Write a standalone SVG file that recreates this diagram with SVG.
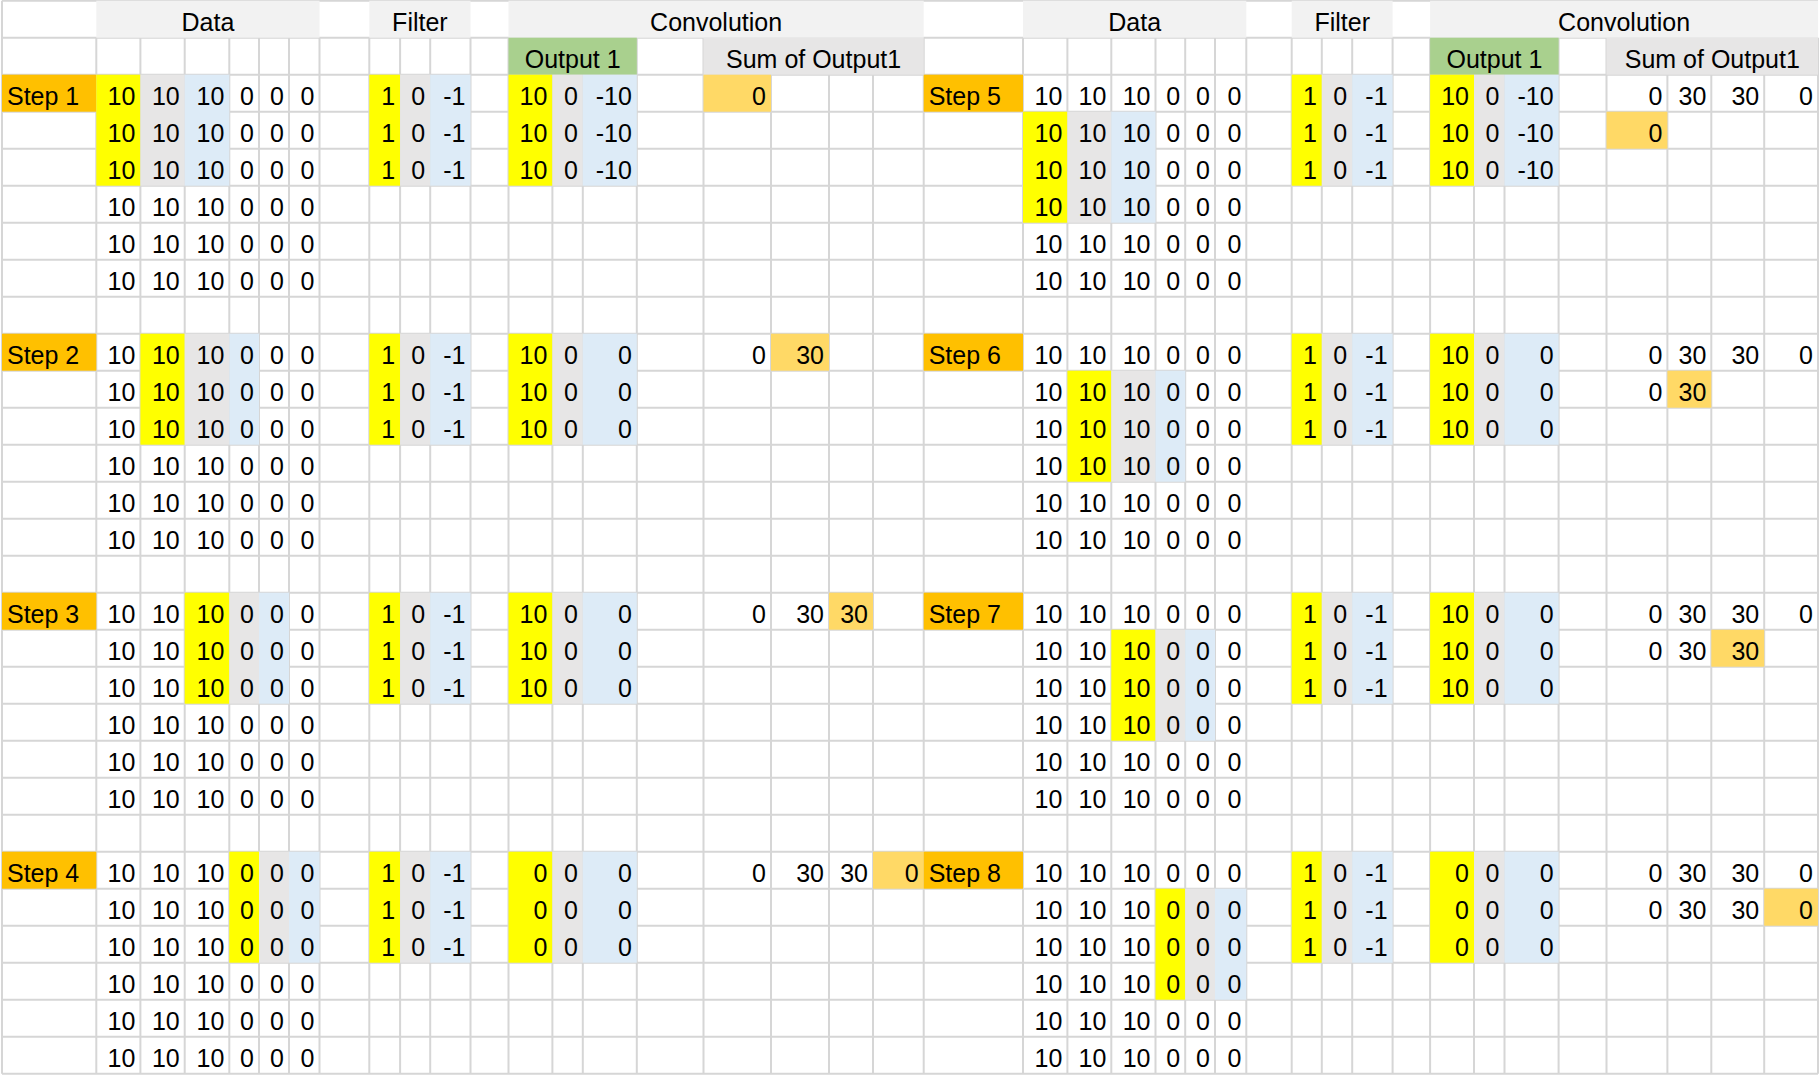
<svg xmlns="http://www.w3.org/2000/svg" width="1820" height="1075" viewBox="0 0 1820 1075">
<style>
text{font-family:"Liberation Sans",Arial,sans-serif;font-size:25px;fill:#000}
.r{text-anchor:end}
.c{text-anchor:middle}
.hd{fill:#f2f2f2}.sh{fill:#e7e6e6}.gn{fill:#a9d08e}.y{fill:#ffff00}.m{fill:#e7e6e6}.b{fill:#ddebf7}.st{fill:#ffc000}.hl{fill:#ffd966}
.grid{fill:none;stroke:#d6d6d6;stroke-width:2}
</style>
<rect x="0" y="0" width="1820" height="1075" fill="#ffffff"/>
<g id="gridlines">
<path class="grid" d="M2 0.7H1818M2 37.7H1818M2 74.7H1818M2 111.7H1818M2 148.7H1818M2 185.7H1818M2 222.7H1818M2 259.7H1818M2 296.7H1818M2 333.7H1818M2 370.7H1818M2 407.7H1818M2 444.7H1818M2 481.7H1818M2 518.7H1818M2 555.7H1818M2 592.7H1818M2 629.7H1818M2 666.7H1818M2 703.7H1818M2 740.7H1818M2 777.7H1818M2 814.7H1818M2 851.7H1818M2 888.7H1818M2 925.7H1818M2 962.7H1818M2 999.7H1818M2 1036.7H1818M2 1073.7H1818"/>
<path class="grid" d="M2 0.7V1073.7M96.3 37.7V1073.7M140.4 37.7V1073.7M184.7 37.7V1073.7M229.3 37.7V1073.7M259 37.7V1073.7M289 37.7V1073.7M319.5 37.7V1073.7M369.3 37.7V1073.7M400.1 37.7V1073.7M430.2 37.7V1073.7M470.5 37.7V1073.7M508.5 37.7V1073.7M552.4 37.7V1073.7M582.8 37.7V1073.7M636.8 37.7V1073.7M703.5 37.7V1073.7M771 37.7V1073.7M829 37.7V1073.7M873 37.7V1073.7M923.7 37.7V1073.7M1023 37.7V1073.7M1067.4 37.7V1073.7M1111.3 37.7V1073.7M1155.5 37.7V1073.7M1185.2 37.7V1073.7M1215 37.7V1073.7M1246.3 37.7V1073.7M1291.7 37.7V1073.7M1321.8 37.7V1073.7M1352.2 37.7V1073.7M1392.6 37.7V1073.7M1430.1 37.7V1073.7M1474 37.7V1073.7M1504.5 37.7V1073.7M1558.6 37.7V1073.7M1606.5 37.7V1073.7M1667.4 37.7V1073.7M1711.3 37.7V1073.7M1764.2 37.7V1073.7M1818 37.7V1073.7"/>
</g>
<g id="headers">
<rect class="hd" x="96.3" y="0.7" width="223.2" height="37"/>
<rect class="hd" x="369.3" y="0.7" width="101.2" height="37"/>
<rect class="hd" x="508.5" y="0.7" width="415.2" height="37"/>
<rect class="hd" x="1023" y="0.7" width="223.3" height="37"/>
<rect class="hd" x="1291.7" y="0.7" width="100.9" height="37"/>
<rect class="hd" x="1430.1" y="0.7" width="388" height="37"/>
<rect class="gn" x="508.5" y="37.7" width="128.3" height="37"/>
<rect class="sh" x="703.5" y="37.7" width="220.2" height="37"/>
<rect class="gn" x="1430.1" y="37.7" width="128.5" height="37"/>
<rect class="sh" x="1606.5" y="37.7" width="211.5" height="37"/>
<text class="c" x="207.9" y="30.5">Data</text>
<text class="c" x="419.9" y="30.5">Filter</text>
<text class="c" x="716.1" y="30.5">Convolution</text>
<text class="c" x="1134.7" y="30.5">Data</text>
<text class="c" x="1342.2" y="30.5">Filter</text>
<text class="c" x="1624.1" y="30.5">Convolution</text>
<text class="c" x="572.7" y="67.5">Output 1</text>
<text class="c" x="813.6" y="67.5">Sum of Output1</text>
<text class="c" x="1494.4" y="67.5">Output 1</text>
<text class="c" x="1712.3" y="67.5">Sum of Output1</text>
</g>
<g id="step1">
<rect class="st" x="2" y="74.7" width="94.3" height="37"/>
<rect class="y" x="96.3" y="74.7" width="44.1" height="111"/><rect class="m" x="140.4" y="74.7" width="44.3" height="111"/><rect class="b" x="184.7" y="74.7" width="44.6" height="111"/>
<rect class="y" x="369.3" y="74.7" width="30.8" height="111"/><rect class="m" x="400.1" y="74.7" width="30.1" height="111"/><rect class="b" x="430.2" y="74.7" width="40.3" height="111"/>
<rect class="y" x="508.5" y="74.7" width="43.9" height="111"/><rect class="m" x="552.4" y="74.7" width="30.4" height="111"/><rect class="b" x="582.8" y="74.7" width="54" height="111"/>
<rect class="hl" x="703.5" y="74.7" width="67.5" height="37"/>
<text x="7" y="104.5">Step 1</text>
<text class="r" y="104.5"><tspan x="135.4">10</tspan><tspan x="179.7">10</tspan><tspan x="224.3">10</tspan><tspan x="254">0</tspan><tspan x="284">0</tspan><tspan x="314.5">0</tspan></text>
<text class="r" y="141.5"><tspan x="135.4">10</tspan><tspan x="179.7">10</tspan><tspan x="224.3">10</tspan><tspan x="254">0</tspan><tspan x="284">0</tspan><tspan x="314.5">0</tspan></text>
<text class="r" y="178.5"><tspan x="135.4">10</tspan><tspan x="179.7">10</tspan><tspan x="224.3">10</tspan><tspan x="254">0</tspan><tspan x="284">0</tspan><tspan x="314.5">0</tspan></text>
<text class="r" y="215.5"><tspan x="135.4">10</tspan><tspan x="179.7">10</tspan><tspan x="224.3">10</tspan><tspan x="254">0</tspan><tspan x="284">0</tspan><tspan x="314.5">0</tspan></text>
<text class="r" y="252.5"><tspan x="135.4">10</tspan><tspan x="179.7">10</tspan><tspan x="224.3">10</tspan><tspan x="254">0</tspan><tspan x="284">0</tspan><tspan x="314.5">0</tspan></text>
<text class="r" y="289.5"><tspan x="135.4">10</tspan><tspan x="179.7">10</tspan><tspan x="224.3">10</tspan><tspan x="254">0</tspan><tspan x="284">0</tspan><tspan x="314.5">0</tspan></text>
<text class="r" y="104.5"><tspan x="395.1">1</tspan><tspan x="425.2">0</tspan><tspan x="465.5">-1</tspan><tspan x="547.4">10</tspan><tspan x="577.8">0</tspan><tspan x="631.8">-10</tspan><tspan x="766">0</tspan></text>
<text class="r" y="141.5"><tspan x="395.1">1</tspan><tspan x="425.2">0</tspan><tspan x="465.5">-1</tspan><tspan x="547.4">10</tspan><tspan x="577.8">0</tspan><tspan x="631.8">-10</tspan></text>
<text class="r" y="178.5"><tspan x="395.1">1</tspan><tspan x="425.2">0</tspan><tspan x="465.5">-1</tspan><tspan x="547.4">10</tspan><tspan x="577.8">0</tspan><tspan x="631.8">-10</tspan></text>
</g>
<g id="step2">
<rect class="st" x="2" y="333.7" width="94.3" height="37"/>
<rect class="y" x="140.4" y="333.7" width="44.3" height="111"/><rect class="m" x="184.7" y="333.7" width="44.6" height="111"/><rect class="b" x="229.3" y="333.7" width="29.7" height="111"/>
<rect class="y" x="369.3" y="333.7" width="30.8" height="111"/><rect class="m" x="400.1" y="333.7" width="30.1" height="111"/><rect class="b" x="430.2" y="333.7" width="40.3" height="111"/>
<rect class="y" x="508.5" y="333.7" width="43.9" height="111"/><rect class="m" x="552.4" y="333.7" width="30.4" height="111"/><rect class="b" x="582.8" y="333.7" width="54" height="111"/>
<rect class="hl" x="771" y="333.7" width="58" height="37"/>
<text x="7" y="363.5">Step 2</text>
<text class="r" y="363.5"><tspan x="135.4">10</tspan><tspan x="179.7">10</tspan><tspan x="224.3">10</tspan><tspan x="254">0</tspan><tspan x="284">0</tspan><tspan x="314.5">0</tspan></text>
<text class="r" y="400.5"><tspan x="135.4">10</tspan><tspan x="179.7">10</tspan><tspan x="224.3">10</tspan><tspan x="254">0</tspan><tspan x="284">0</tspan><tspan x="314.5">0</tspan></text>
<text class="r" y="437.5"><tspan x="135.4">10</tspan><tspan x="179.7">10</tspan><tspan x="224.3">10</tspan><tspan x="254">0</tspan><tspan x="284">0</tspan><tspan x="314.5">0</tspan></text>
<text class="r" y="474.5"><tspan x="135.4">10</tspan><tspan x="179.7">10</tspan><tspan x="224.3">10</tspan><tspan x="254">0</tspan><tspan x="284">0</tspan><tspan x="314.5">0</tspan></text>
<text class="r" y="511.5"><tspan x="135.4">10</tspan><tspan x="179.7">10</tspan><tspan x="224.3">10</tspan><tspan x="254">0</tspan><tspan x="284">0</tspan><tspan x="314.5">0</tspan></text>
<text class="r" y="548.5"><tspan x="135.4">10</tspan><tspan x="179.7">10</tspan><tspan x="224.3">10</tspan><tspan x="254">0</tspan><tspan x="284">0</tspan><tspan x="314.5">0</tspan></text>
<text class="r" y="363.5"><tspan x="395.1">1</tspan><tspan x="425.2">0</tspan><tspan x="465.5">-1</tspan><tspan x="547.4">10</tspan><tspan x="577.8">0</tspan><tspan x="631.8">0</tspan><tspan x="766">0</tspan><tspan x="824">30</tspan></text>
<text class="r" y="400.5"><tspan x="395.1">1</tspan><tspan x="425.2">0</tspan><tspan x="465.5">-1</tspan><tspan x="547.4">10</tspan><tspan x="577.8">0</tspan><tspan x="631.8">0</tspan></text>
<text class="r" y="437.5"><tspan x="395.1">1</tspan><tspan x="425.2">0</tspan><tspan x="465.5">-1</tspan><tspan x="547.4">10</tspan><tspan x="577.8">0</tspan><tspan x="631.8">0</tspan></text>
</g>
<g id="step3">
<rect class="st" x="2" y="592.7" width="94.3" height="37"/>
<rect class="y" x="184.7" y="592.7" width="44.6" height="111"/><rect class="m" x="229.3" y="592.7" width="29.7" height="111"/><rect class="b" x="259" y="592.7" width="30" height="111"/>
<rect class="y" x="369.3" y="592.7" width="30.8" height="111"/><rect class="m" x="400.1" y="592.7" width="30.1" height="111"/><rect class="b" x="430.2" y="592.7" width="40.3" height="111"/>
<rect class="y" x="508.5" y="592.7" width="43.9" height="111"/><rect class="m" x="552.4" y="592.7" width="30.4" height="111"/><rect class="b" x="582.8" y="592.7" width="54" height="111"/>
<rect class="hl" x="829" y="592.7" width="44" height="37"/>
<text x="7" y="622.5">Step 3</text>
<text class="r" y="622.5"><tspan x="135.4">10</tspan><tspan x="179.7">10</tspan><tspan x="224.3">10</tspan><tspan x="254">0</tspan><tspan x="284">0</tspan><tspan x="314.5">0</tspan></text>
<text class="r" y="659.5"><tspan x="135.4">10</tspan><tspan x="179.7">10</tspan><tspan x="224.3">10</tspan><tspan x="254">0</tspan><tspan x="284">0</tspan><tspan x="314.5">0</tspan></text>
<text class="r" y="696.5"><tspan x="135.4">10</tspan><tspan x="179.7">10</tspan><tspan x="224.3">10</tspan><tspan x="254">0</tspan><tspan x="284">0</tspan><tspan x="314.5">0</tspan></text>
<text class="r" y="733.5"><tspan x="135.4">10</tspan><tspan x="179.7">10</tspan><tspan x="224.3">10</tspan><tspan x="254">0</tspan><tspan x="284">0</tspan><tspan x="314.5">0</tspan></text>
<text class="r" y="770.5"><tspan x="135.4">10</tspan><tspan x="179.7">10</tspan><tspan x="224.3">10</tspan><tspan x="254">0</tspan><tspan x="284">0</tspan><tspan x="314.5">0</tspan></text>
<text class="r" y="807.5"><tspan x="135.4">10</tspan><tspan x="179.7">10</tspan><tspan x="224.3">10</tspan><tspan x="254">0</tspan><tspan x="284">0</tspan><tspan x="314.5">0</tspan></text>
<text class="r" y="622.5"><tspan x="395.1">1</tspan><tspan x="425.2">0</tspan><tspan x="465.5">-1</tspan><tspan x="547.4">10</tspan><tspan x="577.8">0</tspan><tspan x="631.8">0</tspan><tspan x="766">0</tspan><tspan x="824">30</tspan><tspan x="868">30</tspan></text>
<text class="r" y="659.5"><tspan x="395.1">1</tspan><tspan x="425.2">0</tspan><tspan x="465.5">-1</tspan><tspan x="547.4">10</tspan><tspan x="577.8">0</tspan><tspan x="631.8">0</tspan></text>
<text class="r" y="696.5"><tspan x="395.1">1</tspan><tspan x="425.2">0</tspan><tspan x="465.5">-1</tspan><tspan x="547.4">10</tspan><tspan x="577.8">0</tspan><tspan x="631.8">0</tspan></text>
</g>
<g id="step4">
<rect class="st" x="2" y="851.7" width="94.3" height="37"/>
<rect class="y" x="229.3" y="851.7" width="29.7" height="111"/><rect class="m" x="259" y="851.7" width="30" height="111"/><rect class="b" x="289" y="851.7" width="30.5" height="111"/>
<rect class="y" x="369.3" y="851.7" width="30.8" height="111"/><rect class="m" x="400.1" y="851.7" width="30.1" height="111"/><rect class="b" x="430.2" y="851.7" width="40.3" height="111"/>
<rect class="y" x="508.5" y="851.7" width="43.9" height="111"/><rect class="m" x="552.4" y="851.7" width="30.4" height="111"/><rect class="b" x="582.8" y="851.7" width="54" height="111"/>
<rect class="hl" x="873" y="851.7" width="50.7" height="37"/>
<text x="7" y="881.5">Step 4</text>
<text class="r" y="881.5"><tspan x="135.4">10</tspan><tspan x="179.7">10</tspan><tspan x="224.3">10</tspan><tspan x="254">0</tspan><tspan x="284">0</tspan><tspan x="314.5">0</tspan></text>
<text class="r" y="918.5"><tspan x="135.4">10</tspan><tspan x="179.7">10</tspan><tspan x="224.3">10</tspan><tspan x="254">0</tspan><tspan x="284">0</tspan><tspan x="314.5">0</tspan></text>
<text class="r" y="955.5"><tspan x="135.4">10</tspan><tspan x="179.7">10</tspan><tspan x="224.3">10</tspan><tspan x="254">0</tspan><tspan x="284">0</tspan><tspan x="314.5">0</tspan></text>
<text class="r" y="992.5"><tspan x="135.4">10</tspan><tspan x="179.7">10</tspan><tspan x="224.3">10</tspan><tspan x="254">0</tspan><tspan x="284">0</tspan><tspan x="314.5">0</tspan></text>
<text class="r" y="1029.5"><tspan x="135.4">10</tspan><tspan x="179.7">10</tspan><tspan x="224.3">10</tspan><tspan x="254">0</tspan><tspan x="284">0</tspan><tspan x="314.5">0</tspan></text>
<text class="r" y="1066.5"><tspan x="135.4">10</tspan><tspan x="179.7">10</tspan><tspan x="224.3">10</tspan><tspan x="254">0</tspan><tspan x="284">0</tspan><tspan x="314.5">0</tspan></text>
<text class="r" y="881.5"><tspan x="395.1">1</tspan><tspan x="425.2">0</tspan><tspan x="465.5">-1</tspan><tspan x="547.4">0</tspan><tspan x="577.8">0</tspan><tspan x="631.8">0</tspan><tspan x="766">0</tspan><tspan x="824">30</tspan><tspan x="868">30</tspan><tspan x="918.7">0</tspan></text>
<text class="r" y="918.5"><tspan x="395.1">1</tspan><tspan x="425.2">0</tspan><tspan x="465.5">-1</tspan><tspan x="547.4">0</tspan><tspan x="577.8">0</tspan><tspan x="631.8">0</tspan></text>
<text class="r" y="955.5"><tspan x="395.1">1</tspan><tspan x="425.2">0</tspan><tspan x="465.5">-1</tspan><tspan x="547.4">0</tspan><tspan x="577.8">0</tspan><tspan x="631.8">0</tspan></text>
</g>
<g id="step5">
<rect class="st" x="923.7" y="74.7" width="99.3" height="37"/>
<rect class="y" x="1023" y="111.7" width="44.4" height="111"/><rect class="m" x="1067.4" y="111.7" width="43.9" height="111"/><rect class="b" x="1111.3" y="111.7" width="44.2" height="111"/>
<rect class="y" x="1291.7" y="74.7" width="30.1" height="111"/><rect class="m" x="1321.8" y="74.7" width="30.4" height="111"/><rect class="b" x="1352.2" y="74.7" width="40.4" height="111"/>
<rect class="y" x="1430.1" y="74.7" width="43.9" height="111"/><rect class="m" x="1474" y="74.7" width="30.5" height="111"/><rect class="b" x="1504.5" y="74.7" width="54.1" height="111"/>
<rect class="hl" x="1606.5" y="111.7" width="60.9" height="37"/>
<text x="928.7" y="104.5">Step 5</text>
<text class="r" y="104.5"><tspan x="1062.4">10</tspan><tspan x="1106.3">10</tspan><tspan x="1150.5">10</tspan><tspan x="1180.2">0</tspan><tspan x="1210">0</tspan><tspan x="1241.3">0</tspan></text>
<text class="r" y="141.5"><tspan x="1062.4">10</tspan><tspan x="1106.3">10</tspan><tspan x="1150.5">10</tspan><tspan x="1180.2">0</tspan><tspan x="1210">0</tspan><tspan x="1241.3">0</tspan></text>
<text class="r" y="178.5"><tspan x="1062.4">10</tspan><tspan x="1106.3">10</tspan><tspan x="1150.5">10</tspan><tspan x="1180.2">0</tspan><tspan x="1210">0</tspan><tspan x="1241.3">0</tspan></text>
<text class="r" y="215.5"><tspan x="1062.4">10</tspan><tspan x="1106.3">10</tspan><tspan x="1150.5">10</tspan><tspan x="1180.2">0</tspan><tspan x="1210">0</tspan><tspan x="1241.3">0</tspan></text>
<text class="r" y="252.5"><tspan x="1062.4">10</tspan><tspan x="1106.3">10</tspan><tspan x="1150.5">10</tspan><tspan x="1180.2">0</tspan><tspan x="1210">0</tspan><tspan x="1241.3">0</tspan></text>
<text class="r" y="289.5"><tspan x="1062.4">10</tspan><tspan x="1106.3">10</tspan><tspan x="1150.5">10</tspan><tspan x="1180.2">0</tspan><tspan x="1210">0</tspan><tspan x="1241.3">0</tspan></text>
<text class="r" y="104.5"><tspan x="1316.8">1</tspan><tspan x="1347.2">0</tspan><tspan x="1387.6">-1</tspan><tspan x="1469">10</tspan><tspan x="1499.5">0</tspan><tspan x="1553.6">-10</tspan><tspan x="1662.4">0</tspan><tspan x="1706.3">30</tspan><tspan x="1759.2">30</tspan><tspan x="1813">0</tspan></text>
<text class="r" y="141.5"><tspan x="1316.8">1</tspan><tspan x="1347.2">0</tspan><tspan x="1387.6">-1</tspan><tspan x="1469">10</tspan><tspan x="1499.5">0</tspan><tspan x="1553.6">-10</tspan><tspan x="1662.4">0</tspan></text>
<text class="r" y="178.5"><tspan x="1316.8">1</tspan><tspan x="1347.2">0</tspan><tspan x="1387.6">-1</tspan><tspan x="1469">10</tspan><tspan x="1499.5">0</tspan><tspan x="1553.6">-10</tspan></text>
</g>
<g id="step6">
<rect class="st" x="923.7" y="333.7" width="99.3" height="37"/>
<rect class="y" x="1067.4" y="370.7" width="43.9" height="111"/><rect class="m" x="1111.3" y="370.7" width="44.2" height="111"/><rect class="b" x="1155.5" y="370.7" width="29.7" height="111"/>
<rect class="y" x="1291.7" y="333.7" width="30.1" height="111"/><rect class="m" x="1321.8" y="333.7" width="30.4" height="111"/><rect class="b" x="1352.2" y="333.7" width="40.4" height="111"/>
<rect class="y" x="1430.1" y="333.7" width="43.9" height="111"/><rect class="m" x="1474" y="333.7" width="30.5" height="111"/><rect class="b" x="1504.5" y="333.7" width="54.1" height="111"/>
<rect class="hl" x="1667.4" y="370.7" width="43.9" height="37"/>
<text x="928.7" y="363.5">Step 6</text>
<text class="r" y="363.5"><tspan x="1062.4">10</tspan><tspan x="1106.3">10</tspan><tspan x="1150.5">10</tspan><tspan x="1180.2">0</tspan><tspan x="1210">0</tspan><tspan x="1241.3">0</tspan></text>
<text class="r" y="400.5"><tspan x="1062.4">10</tspan><tspan x="1106.3">10</tspan><tspan x="1150.5">10</tspan><tspan x="1180.2">0</tspan><tspan x="1210">0</tspan><tspan x="1241.3">0</tspan></text>
<text class="r" y="437.5"><tspan x="1062.4">10</tspan><tspan x="1106.3">10</tspan><tspan x="1150.5">10</tspan><tspan x="1180.2">0</tspan><tspan x="1210">0</tspan><tspan x="1241.3">0</tspan></text>
<text class="r" y="474.5"><tspan x="1062.4">10</tspan><tspan x="1106.3">10</tspan><tspan x="1150.5">10</tspan><tspan x="1180.2">0</tspan><tspan x="1210">0</tspan><tspan x="1241.3">0</tspan></text>
<text class="r" y="511.5"><tspan x="1062.4">10</tspan><tspan x="1106.3">10</tspan><tspan x="1150.5">10</tspan><tspan x="1180.2">0</tspan><tspan x="1210">0</tspan><tspan x="1241.3">0</tspan></text>
<text class="r" y="548.5"><tspan x="1062.4">10</tspan><tspan x="1106.3">10</tspan><tspan x="1150.5">10</tspan><tspan x="1180.2">0</tspan><tspan x="1210">0</tspan><tspan x="1241.3">0</tspan></text>
<text class="r" y="363.5"><tspan x="1316.8">1</tspan><tspan x="1347.2">0</tspan><tspan x="1387.6">-1</tspan><tspan x="1469">10</tspan><tspan x="1499.5">0</tspan><tspan x="1553.6">0</tspan><tspan x="1662.4">0</tspan><tspan x="1706.3">30</tspan><tspan x="1759.2">30</tspan><tspan x="1813">0</tspan></text>
<text class="r" y="400.5"><tspan x="1316.8">1</tspan><tspan x="1347.2">0</tspan><tspan x="1387.6">-1</tspan><tspan x="1469">10</tspan><tspan x="1499.5">0</tspan><tspan x="1553.6">0</tspan><tspan x="1662.4">0</tspan><tspan x="1706.3">30</tspan></text>
<text class="r" y="437.5"><tspan x="1316.8">1</tspan><tspan x="1347.2">0</tspan><tspan x="1387.6">-1</tspan><tspan x="1469">10</tspan><tspan x="1499.5">0</tspan><tspan x="1553.6">0</tspan></text>
</g>
<g id="step7">
<rect class="st" x="923.7" y="592.7" width="99.3" height="37"/>
<rect class="y" x="1111.3" y="629.7" width="44.2" height="111"/><rect class="m" x="1155.5" y="629.7" width="29.7" height="111"/><rect class="b" x="1185.2" y="629.7" width="29.8" height="111"/>
<rect class="y" x="1291.7" y="592.7" width="30.1" height="111"/><rect class="m" x="1321.8" y="592.7" width="30.4" height="111"/><rect class="b" x="1352.2" y="592.7" width="40.4" height="111"/>
<rect class="y" x="1430.1" y="592.7" width="43.9" height="111"/><rect class="m" x="1474" y="592.7" width="30.5" height="111"/><rect class="b" x="1504.5" y="592.7" width="54.1" height="111"/>
<rect class="hl" x="1711.3" y="629.7" width="52.9" height="37"/>
<text x="928.7" y="622.5">Step 7</text>
<text class="r" y="622.5"><tspan x="1062.4">10</tspan><tspan x="1106.3">10</tspan><tspan x="1150.5">10</tspan><tspan x="1180.2">0</tspan><tspan x="1210">0</tspan><tspan x="1241.3">0</tspan></text>
<text class="r" y="659.5"><tspan x="1062.4">10</tspan><tspan x="1106.3">10</tspan><tspan x="1150.5">10</tspan><tspan x="1180.2">0</tspan><tspan x="1210">0</tspan><tspan x="1241.3">0</tspan></text>
<text class="r" y="696.5"><tspan x="1062.4">10</tspan><tspan x="1106.3">10</tspan><tspan x="1150.5">10</tspan><tspan x="1180.2">0</tspan><tspan x="1210">0</tspan><tspan x="1241.3">0</tspan></text>
<text class="r" y="733.5"><tspan x="1062.4">10</tspan><tspan x="1106.3">10</tspan><tspan x="1150.5">10</tspan><tspan x="1180.2">0</tspan><tspan x="1210">0</tspan><tspan x="1241.3">0</tspan></text>
<text class="r" y="770.5"><tspan x="1062.4">10</tspan><tspan x="1106.3">10</tspan><tspan x="1150.5">10</tspan><tspan x="1180.2">0</tspan><tspan x="1210">0</tspan><tspan x="1241.3">0</tspan></text>
<text class="r" y="807.5"><tspan x="1062.4">10</tspan><tspan x="1106.3">10</tspan><tspan x="1150.5">10</tspan><tspan x="1180.2">0</tspan><tspan x="1210">0</tspan><tspan x="1241.3">0</tspan></text>
<text class="r" y="622.5"><tspan x="1316.8">1</tspan><tspan x="1347.2">0</tspan><tspan x="1387.6">-1</tspan><tspan x="1469">10</tspan><tspan x="1499.5">0</tspan><tspan x="1553.6">0</tspan><tspan x="1662.4">0</tspan><tspan x="1706.3">30</tspan><tspan x="1759.2">30</tspan><tspan x="1813">0</tspan></text>
<text class="r" y="659.5"><tspan x="1316.8">1</tspan><tspan x="1347.2">0</tspan><tspan x="1387.6">-1</tspan><tspan x="1469">10</tspan><tspan x="1499.5">0</tspan><tspan x="1553.6">0</tspan><tspan x="1662.4">0</tspan><tspan x="1706.3">30</tspan><tspan x="1759.2">30</tspan></text>
<text class="r" y="696.5"><tspan x="1316.8">1</tspan><tspan x="1347.2">0</tspan><tspan x="1387.6">-1</tspan><tspan x="1469">10</tspan><tspan x="1499.5">0</tspan><tspan x="1553.6">0</tspan></text>
</g>
<g id="step8">
<rect class="st" x="923.7" y="851.7" width="99.3" height="37"/>
<rect class="y" x="1155.5" y="888.7" width="29.7" height="111"/><rect class="m" x="1185.2" y="888.7" width="29.8" height="111"/><rect class="b" x="1215" y="888.7" width="31.3" height="111"/>
<rect class="y" x="1291.7" y="851.7" width="30.1" height="111"/><rect class="m" x="1321.8" y="851.7" width="30.4" height="111"/><rect class="b" x="1352.2" y="851.7" width="40.4" height="111"/>
<rect class="y" x="1430.1" y="851.7" width="43.9" height="111"/><rect class="m" x="1474" y="851.7" width="30.5" height="111"/><rect class="b" x="1504.5" y="851.7" width="54.1" height="111"/>
<rect class="hl" x="1764.2" y="888.7" width="53.8" height="37"/>
<text x="928.7" y="881.5">Step 8</text>
<text class="r" y="881.5"><tspan x="1062.4">10</tspan><tspan x="1106.3">10</tspan><tspan x="1150.5">10</tspan><tspan x="1180.2">0</tspan><tspan x="1210">0</tspan><tspan x="1241.3">0</tspan></text>
<text class="r" y="918.5"><tspan x="1062.4">10</tspan><tspan x="1106.3">10</tspan><tspan x="1150.5">10</tspan><tspan x="1180.2">0</tspan><tspan x="1210">0</tspan><tspan x="1241.3">0</tspan></text>
<text class="r" y="955.5"><tspan x="1062.4">10</tspan><tspan x="1106.3">10</tspan><tspan x="1150.5">10</tspan><tspan x="1180.2">0</tspan><tspan x="1210">0</tspan><tspan x="1241.3">0</tspan></text>
<text class="r" y="992.5"><tspan x="1062.4">10</tspan><tspan x="1106.3">10</tspan><tspan x="1150.5">10</tspan><tspan x="1180.2">0</tspan><tspan x="1210">0</tspan><tspan x="1241.3">0</tspan></text>
<text class="r" y="1029.5"><tspan x="1062.4">10</tspan><tspan x="1106.3">10</tspan><tspan x="1150.5">10</tspan><tspan x="1180.2">0</tspan><tspan x="1210">0</tspan><tspan x="1241.3">0</tspan></text>
<text class="r" y="1066.5"><tspan x="1062.4">10</tspan><tspan x="1106.3">10</tspan><tspan x="1150.5">10</tspan><tspan x="1180.2">0</tspan><tspan x="1210">0</tspan><tspan x="1241.3">0</tspan></text>
<text class="r" y="881.5"><tspan x="1316.8">1</tspan><tspan x="1347.2">0</tspan><tspan x="1387.6">-1</tspan><tspan x="1469">0</tspan><tspan x="1499.5">0</tspan><tspan x="1553.6">0</tspan><tspan x="1662.4">0</tspan><tspan x="1706.3">30</tspan><tspan x="1759.2">30</tspan><tspan x="1813">0</tspan></text>
<text class="r" y="918.5"><tspan x="1316.8">1</tspan><tspan x="1347.2">0</tspan><tspan x="1387.6">-1</tspan><tspan x="1469">0</tspan><tspan x="1499.5">0</tspan><tspan x="1553.6">0</tspan><tspan x="1662.4">0</tspan><tspan x="1706.3">30</tspan><tspan x="1759.2">30</tspan><tspan x="1813">0</tspan></text>
<text class="r" y="955.5"><tspan x="1316.8">1</tspan><tspan x="1347.2">0</tspan><tspan x="1387.6">-1</tspan><tspan x="1469">0</tspan><tspan x="1499.5">0</tspan><tspan x="1553.6">0</tspan></text>
</g>
</svg>
